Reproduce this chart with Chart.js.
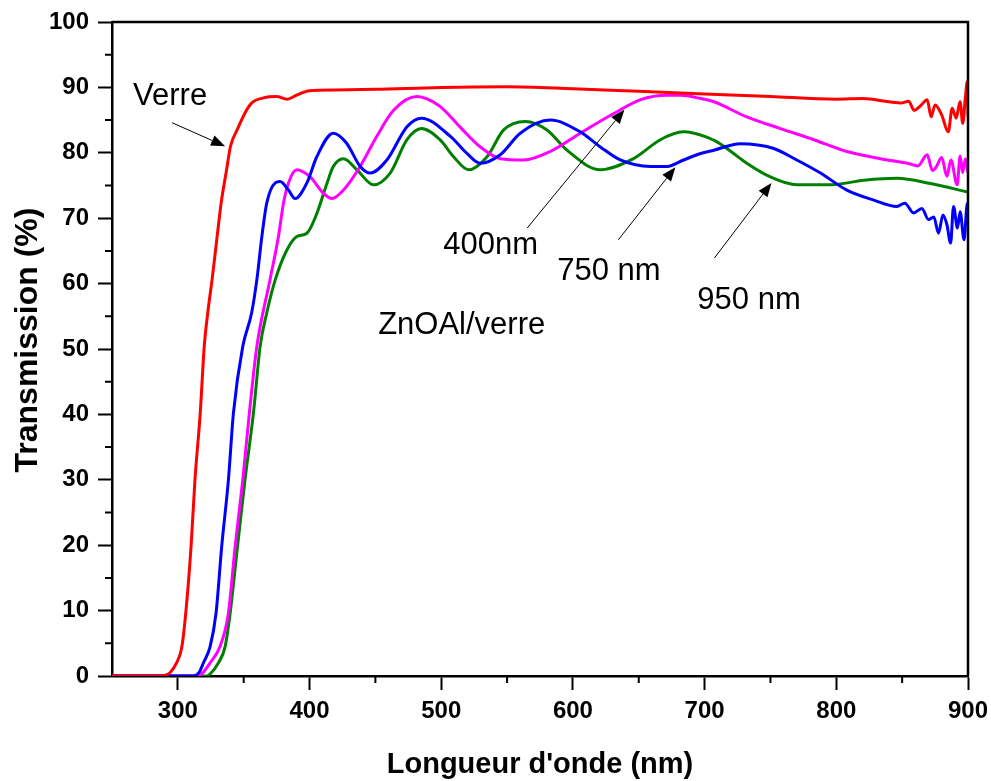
<!DOCTYPE html>
<html><head><meta charset="utf-8">
<script src="https://cdn.jsdelivr.net/npm/chart.js@4.4.0/dist/chart.umd.min.js"></script>
<style>html,body{margin:0;padding:0;background:#fff;}#wrap{width:991px;height:781px;}</style>
</head><body><div id="wrap"><canvas id="c" width="991" height="781"></canvas></div>
<script>
// ---- data ----
const xTicks = [300, 400, 500, 600, 700, 800, 900];
const xMinorTicks = [350, 450, 550, 650, 750, 850];
const yTicks = [0, 10, 20, 30, 40, 50, 60, 70, 80, 90, 100];
const yMinorTicks = [5, 15, 25, 35, 45, 55, 65, 75, 85, 95];

const verreX = [250,285,290,294,299,303,306,310,313,317,320,323,326,330,333,337,340,345,351,356,365,375,383,390,400,420,450,500,550,600,650,700,750,800,820,840,849,855,859,864,869,872,875,880,885,888,891,894,896,898,899.5,900];
const verreY = [0,0,0.1,0.5,2.0,4.4,9.6,19.7,30,40.2,50.3,56,60.6,67.5,72.5,77.4,81,83.5,86.1,87.6,88.4,88.6,88.2,88.8,89.5,89.6,89.7,90,90.1,89.8,89.4,89,88.6,88.2,88.3,87.8,87.6,87.9,86.5,87.2,88.1,85.5,87.3,85.8,83.2,86.8,85.3,87.8,84.5,88.5,90.9,85.5];

const nm750X = [250,312,316,319.4,324.5,329,333.3,338.4,342.2,349.3,356,360,363.8,367.5,374,377.7,384,389,398,405.5,418,428,438.5,446,458.7,474,485,507,519.5,529.6,544.8,560,582.8,605.6,620.8,636,658.8,671.5,684,697,707,727,752,770,788,808,828,846,852,858.7,865,870,874,877.6,881,884,886.8,889,892,894,897,899.5,900];
const nm750Y = [0,0,0.5,2.0,4.5,9.6,19.8,30,40.2,50.4,55.5,60.6,67.2,72.3,75.4,75.6,74.3,73,75.4,79.4,83,81.5,77.9,76.9,78.9,84,85.3,82.5,79.9,78.4,79.7,83,85,83.2,80.9,78.9,77.9,77.9,78.9,79.9,80.4,81.4,80.7,78.9,76.9,74.3,72.8,71.8,72.3,70.8,71.5,69.8,70.2,67.7,70.5,69,66.2,71.8,68.5,71,66.7,72.3,69];

const nm400X = [250,316,319,324.5,332,338.4,343.5,349.3,354.3,360,370,376.4,380.2,384,390.3,400.5,410.6,417,425.8,438.4,451,463.8,481.5,499,514,529.6,545,562.6,582.8,605.6,631,651,671.5,681.6,697,707,732,757.6,783,808,833.6,854,862,869,873,876,880,884,887,891.8,894,896,898,900];
const nm400Y = [0,0,0.5,2.0,4.5,9.6,19.8,30,40.2,50.4,60.6,67.2,72.3,75.4,77.4,76.3,73.8,73.0,74.3,77.9,82.5,86.5,88.6,87.1,84,80.9,79.1,78.9,80.2,83,86,88.1,88.8,88.8,88.3,87.8,85.5,83.7,82,80.2,79.1,78.4,78.0,79.7,77.3,77.9,79.3,76.4,78.9,75.1,79.5,77,79.1,76.9];

const nm950X = [250,322,324.5,330.8,335.9,339.7,345.3,351,357.4,362.5,367.5,374,382.7,390.3,398,405.5,413.2,418,425.8,436,448.6,461.2,474,485,499,509.4,520.8,534.8,547.4,564,580.3,595.5,620.8,646,666.4,684,692,700,710,720,732,750,770,795.6,821,846,871.6,900];
const nm950Y = [0,0,0.3,2.0,4.5,9.6,19.8,30,40.2,50.4,55.5,60.6,65.1,67.2,67.7,70.7,75.3,77.9,79.1,77.4,75.1,76.9,82,83.7,82,79.4,77.4,79.4,83.5,84.8,83.5,80.4,77.4,79.1,82,83.2,83.0,82.5,81.6,80.2,78.4,76.3,75.1,75.1,75.8,76.1,75.3,74];

// text labels (data coordinates: x nm, y % at text baseline, left-aligned)
const labelTexts = ["Verre", "400nm", "750 nm", "950 nm", "ZnOAl/verre"];
const labelX = [266, 501.5, 588.1, 694.5, 452.1];
const labelY = [87.3, 64.5, 60.55, 56.1, 52.3];
// arrows (from -> to, data coordinates)
const arrowFromX = [295.6, 565.3, 634.5, 707.4];
const arrowFromY = [84.6, 68.5, 66.7, 63.9];
const arrowToX = [335.9, 639.1, 677.8, 750.8];
const arrowToY = [81.0, 86.6, 77.8, 75.4];

const FONT = '"Liberation Sans", Arial, Helvetica, sans-serif';

function pts(xs, ys) { return xs.map((x, i) => ({x: x, y: ys[i]})); }
function ds(label, xs, ys, color) {
  return {label: label, data: pts(xs, ys), borderColor: color, backgroundColor: color,
    borderWidth: 3, pointRadius: 0, fill: false, cubicInterpolationMode: 'monotone'};
}

const decor = {
  id: 'decor',
  afterDraw(chart) {
    const ctx = chart.ctx, a = chart.chartArea, xs = chart.scales.x, ys = chart.scales.y;
    ctx.save();
    // frame top/right
    ctx.strokeStyle = '#000'; ctx.lineWidth = 2.5;
    ctx.beginPath();
    ctx.moveTo(a.left, a.top); ctx.lineTo(a.right, a.top); ctx.lineTo(a.right, a.bottom);
    ctx.stroke();
    // minor ticks
    ctx.lineWidth = 2;
    ctx.beginPath();
    xMinorTicks.forEach(v => { const p = xs.getPixelForValue(v); ctx.moveTo(p, a.bottom); ctx.lineTo(p, a.bottom + 7); });
    yMinorTicks.forEach(v => { const p = ys.getPixelForValue(v); ctx.moveTo(a.left, p); ctx.lineTo(a.left - 7, p); });
    ctx.stroke();
    // axis titles
    ctx.fillStyle = '#000';
    ctx.font = 'bold 29px ' + FONT;
    ctx.textAlign = 'center'; ctx.textBaseline = 'alphabetic';
    ctx.fillText("Longueur d'onde (nm)", (a.left + a.right) / 2, 773);
    ctx.save();
    ctx.translate(37, 340);
    ctx.rotate(-Math.PI / 2);
    ctx.font = 'bold 32px ' + FONT;
    ctx.fillText('Transmission (%)', 0, 0);
    ctx.restore();
    // labels
    ctx.font = '31px ' + FONT;
    ctx.textAlign = 'left';
    labelTexts.forEach((t, i) => ctx.fillText(t, xs.getPixelForValue(labelX[i]), ys.getPixelForValue(labelY[i])));
    // arrows
    ctx.lineWidth = 1; ctx.strokeStyle = '#000';
    for (let i = 0; i < arrowFromX.length; i++) {
      const x1 = xs.getPixelForValue(arrowFromX[i]), y1 = ys.getPixelForValue(arrowFromY[i]);
      const x2 = xs.getPixelForValue(arrowToX[i]), y2 = ys.getPixelForValue(arrowToY[i]);
      const ang = Math.atan2(y2 - y1, x2 - x1), L = 14, W = 5.5;
      const bx = x2 - L * Math.cos(ang), by = y2 - L * Math.sin(ang);
      ctx.beginPath(); ctx.moveTo(x1, y1); ctx.lineTo(bx, by); ctx.stroke();
      ctx.beginPath();
      ctx.moveTo(x2, y2);
      ctx.lineTo(bx + W * Math.sin(ang), by - W * Math.cos(ang));
      ctx.lineTo(bx - W * Math.sin(ang), by + W * Math.cos(ang));
      ctx.closePath(); ctx.fill();
    }
    ctx.restore();
  }
};

new Chart(document.getElementById('c'), {
  type: 'line',
  data: {datasets: [
    ds('Verre', verreX, verreY, '#ff0000'),
    ds('750 nm', nm750X, nm750Y, '#0000ff'),
    ds('400nm', nm400X, nm400Y, '#ff00ff'),
    ds('950 nm', nm950X, nm950Y, '#008000')
  ]},
  options: {
    responsive: false, animation: false, devicePixelRatio: 1,
    layout: {padding: {top: 22, right: 23, left: 0, bottom: 0}},
    plugins: {legend: {display: false}, tooltip: {enabled: false}},
    scales: {
      x: {type: 'linear', min: 250, max: 900,
        afterBuildTicks: s => { s.ticks = xTicks.map(v => ({value: v})); },
        afterFit: s => { s.height = 105; s.paddingRight = 0; s.paddingLeft = 0; },
        ticks: {font: {family: FONT, size: 24, weight: 'bold'}, color: '#000', padding: 7, maxRotation: 0, autoSkip: false},
        grid: {drawOnChartArea: false, tickLength: 14, tickWidth: 2, tickColor: '#000'},
        border: {display: true, color: '#000', width: 2.5}
      },
      y: {type: 'linear', min: 0, max: 100,
        afterBuildTicks: s => { s.ticks = yTicks.map(v => ({value: v})); },
        afterFit: s => { s.width = 112; s.paddingTop = 0; s.paddingBottom = 0; },
        ticks: {font: {family: FONT, size: 24, weight: 'bold'}, color: '#000', padding: 9, autoSkip: false},
        grid: {drawOnChartArea: false, tickLength: 14, tickWidth: 2, tickColor: '#000'},
        border: {display: true, color: '#000', width: 2.5}
      }
    }
  },
  plugins: [decor]
});
</script></body></html>
